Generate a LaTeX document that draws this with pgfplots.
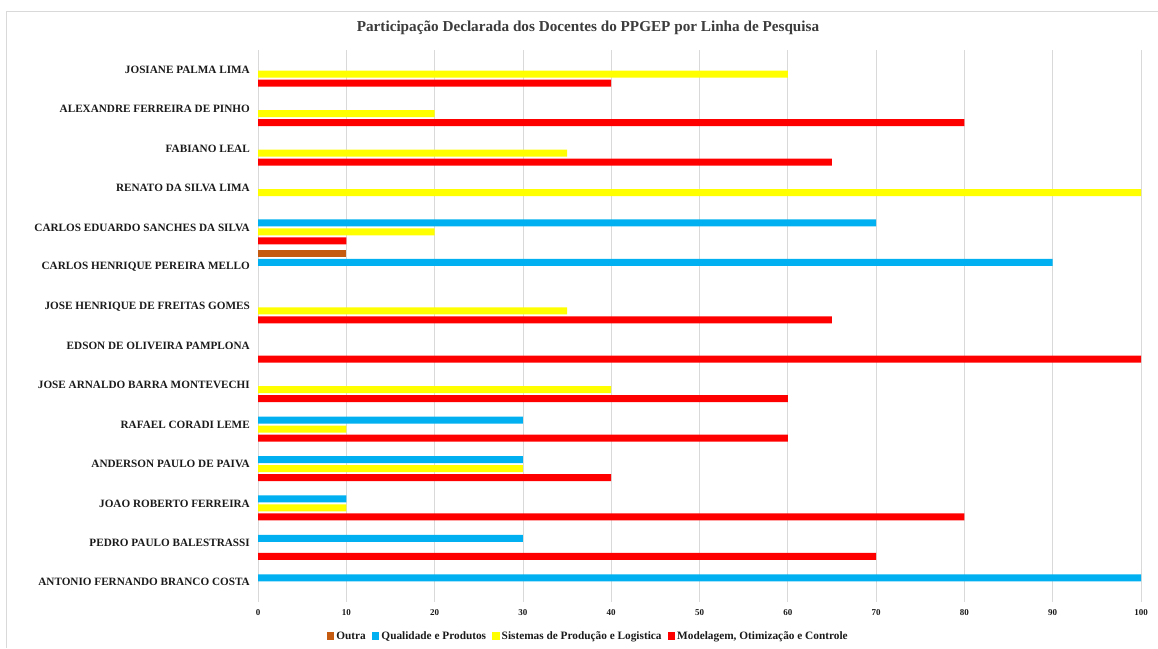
\documentclass[border=0pt]{standalone}
\usepackage{pgfplots}
\pgfplotsset{compat=1.18}
\usepackage{fontspec}
\setmainfont{Liberation Serif}
\definecolor{cOutra}{HTML}{C55A11}
\definecolor{cQual}{HTML}{00B0F0}
\definecolor{cSist}{HTML}{FFFF00}
\definecolor{cMod}{HTML}{FF0000}
\definecolor{gridc}{HTML}{D9D9D9}
\definecolor{txt}{HTML}{1A1A1A}
\begin{document}
\begin{tikzpicture}
\path[use as bounding box] (0pt,0pt) rectangle (1158pt,-648pt);
\draw[gridc, line width=0.8pt] (6pt,-648pt) -- (6pt,-11pt) -- (1158pt,-11pt);
\begin{axis}[
  at={(258pt,-602pt)}, anchor=south west,
  scale only axis, width=883pt, height=552pt,
  xbar=2pt, bar width=7pt,
  xmin=0, xmax=100,
  ymin=-0.5, ymax=13.5, y dir=reverse,
  xtick={0,10,...,100},
  ytick={0,...,13},
  yticklabels={JOSIANE PALMA LIMA, ALEXANDRE FERREIRA DE PINHO, FABIANO LEAL, RENATO DA SILVA LIMA, CARLOS EDUARDO SANCHES DA SILVA, CARLOS HENRIQUE PEREIRA MELLO, JOSE HENRIQUE DE FREITAS GOMES, EDSON DE OLIVEIRA PAMPLONA, JOSE ARNALDO BARRA MONTEVECHI, RAFAEL CORADI LEME, ANDERSON PAULO DE PAIVA, JOAO ROBERTO FERREIRA, PEDRO PAULO BALESTRASSI, ANTONIO FERNANDO BRANCO COSTA},
  /pgf/number format/assume math mode=true,
  yticklabel style={font=\fontsize{11.2}{13}\selectfont\bfseries, text=txt, inner sep=0pt, xshift=-8pt},
  xticklabel style={font=\fontsize{9}{11}\selectfont\bfseries, text=txt, inner sep=0pt, yshift=-7pt},
  major tick length=0pt,
  tick style={draw=none},
  axis line style={draw=none},
  xmajorgrids, major grid style={gridc, line width=0.8pt},
  legend columns=4, reverse legend,
  legend style={at={(rel axis cs:0.374,0)}, anchor=center, yshift=-34pt, draw=none, fill=none,
    font=\fontsize{11.3}{13}\selectfont\bfseries, text=txt,
    /tikz/every even column/.append style={column sep=4pt},
    nodes={inner xsep=2pt, inner ysep=0pt}},
  legend image code/.code={\fill[#1] (0pt,-3.8pt) rectangle (7.6pt,3.8pt);},
]
\addplot[fill=cMod, draw=none] coordinates {(40,0) (80,1) (65,2) (10,4) (65,6) (100,7) (60,8) (60,9) (40,10) (80,11) (70,12)};
\addplot[fill=cSist, draw=none] coordinates {(60,0) (20,1) (35,2) (100,3) (20,4) (35,6) (40,8) (10,9) (30,10) (10,11)};
\addplot[fill=cQual, draw=none] coordinates {(70,4) (90,5) (30,9) (30,10) (10,11) (30,12) (100,13)};
\addplot[fill=cOutra, draw=none] coordinates {(10,5)};
\legend{{Modelagem, Otimização e Controle}, Sistemas de Produção e Logistica, Qualidade e Produtos, Outra}
\end{axis}
\node[font=\fontsize{15.2}{17}\selectfont\bfseries, text=txt!85!white] at (588pt,-28pt) {Participação Declarada dos Docentes do PPGEP por Linha de Pesquisa};
\end{tikzpicture}
\end{document}
